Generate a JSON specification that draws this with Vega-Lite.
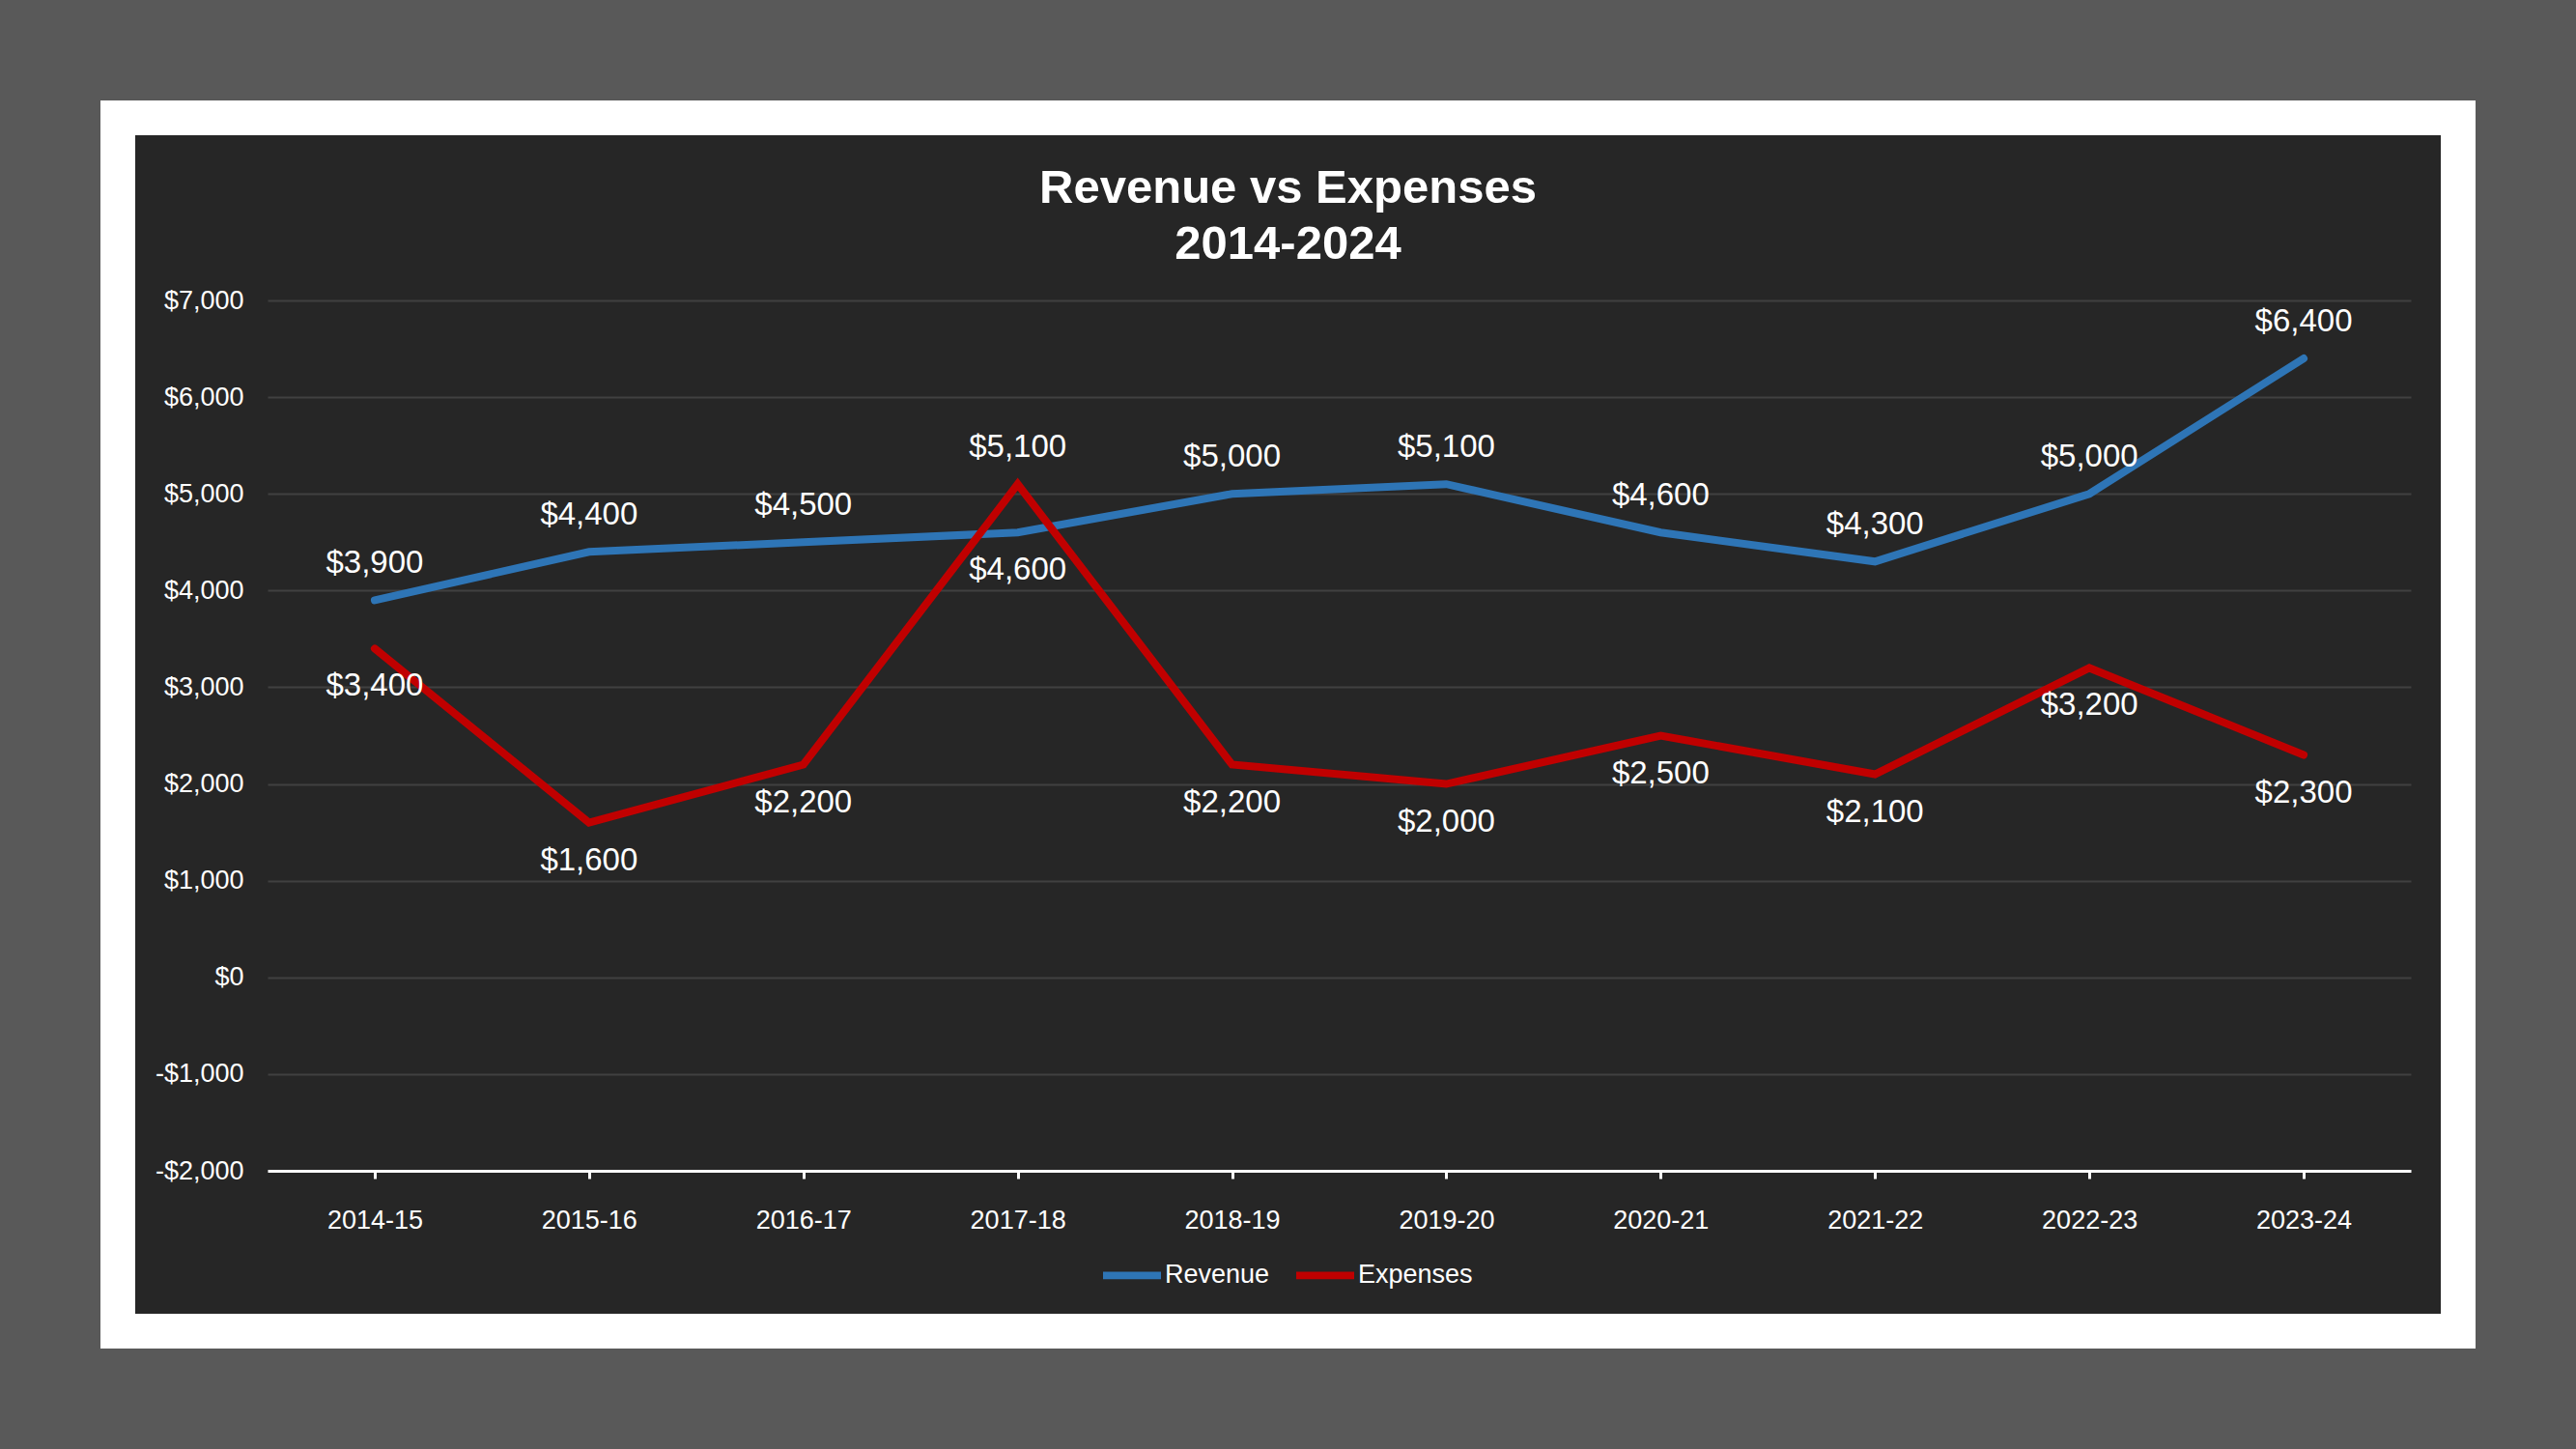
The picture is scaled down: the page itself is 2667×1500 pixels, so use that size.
{
  "$schema": "https://vega.github.io/schema/vega-lite/v6.json",
  "width": 2423,
  "height": 1256,
  "autosize": {"type": "none"},
  "padding": {"left": 122, "top": 122, "right": 122, "bottom": 122},
  "background": "#595959",
  "title": {
    "text": ["Revenue vs Expenses", "2014-2024"],
    "fontSize": 49,
    "fontWeight": "bold",
    "font": "Liberation Sans",
    "color": "#ffffff",
    "lineHeight": 58,
    "anchor": "middle",
    "frame": "group",
    "baseline": "top",
    "offset": -156
  },
  "data": {
    "values": [
      {"year": "2014-15", "series": "Revenue", "value": 3900},
      {"year": "2015-16", "series": "Revenue", "value": 4400},
      {"year": "2016-17", "series": "Revenue", "value": 4500},
      {"year": "2017-18", "series": "Revenue", "value": 4600},
      {"year": "2018-19", "series": "Revenue", "value": 5000},
      {"year": "2019-20", "series": "Revenue", "value": 5100},
      {"year": "2020-21", "series": "Revenue", "value": 4600},
      {"year": "2021-22", "series": "Revenue", "value": 4300},
      {"year": "2022-23", "series": "Revenue", "value": 5000},
      {"year": "2023-24", "series": "Revenue", "value": 6400},
      {"year": "2014-15", "series": "Expenses", "value": 3400},
      {"year": "2015-16", "series": "Expenses", "value": 1600},
      {"year": "2016-17", "series": "Expenses", "value": 2200},
      {"year": "2017-18", "series": "Expenses", "value": 5100},
      {"year": "2018-19", "series": "Expenses", "value": 2200},
      {"year": "2019-20", "series": "Expenses", "value": 2000},
      {"year": "2020-21", "series": "Expenses", "value": 2500},
      {"year": "2021-22", "series": "Expenses", "value": 2100},
      {"year": "2022-23", "series": "Expenses", "value": 3200},
      {"year": "2023-24", "series": "Expenses", "value": 2300}
    ]
  },
  "transform": [
    {"joinaggregate": [{"op": "max", "field": "value", "as": "maxv"}], "groupby": ["year"]},
    {"calculate": "datum.value == datum.maxv", "as": "isTop"}
  ],
  "encoding": {
    "x": {
      "field": "year",
      "type": "ordinal",
      "sort": null,
      "scale": {"type": "point", "range": [155, 2374], "padding": 0.5},
      "axis": {
        "title": null,
        "orient": "bottom",
        "offset": -166,
        "grid": false,
        "domain": true,
        "domainColor": "#ffffff",
        "domainWidth": 3,
        "ticks": true,
        "tickColor": "#ffffff",
        "tickWidth": 3,
        "tickSize": 8,
        "labelPadding": 30,
        "labelFontSize": 27,
        "labelColor": "#ffffff",
        "labelFont": "Liberation Sans",
        "labelAngle": 0
      }
    },
    "y": {
      "field": "value",
      "type": "quantitative",
      "scale": {"domain": [-2000, 7000], "range": [1090, 189], "nice": false, "zero": false},
      "axis": {
        "title": null,
        "orient": "left",
        "offset": -155,
        "values": [-2000, -1000, 0, 1000, 2000, 3000, 4000, 5000, 6000, 7000],
        "labelExpr": "datum.value < 0 ? '-$' + format(-datum.value, ',') : '$' + format(datum.value, ',')",
        "domain": false,
        "ticks": false,
        "tickSize": 0,
        "grid": true,
        "gridColor": "#404040",
        "gridWidth": 2,
        "labelPadding": 25,
        "labelFontSize": 27,
        "labelColor": "#ffffff",
        "labelFont": "Liberation Sans"
      }
    }
  },
  "layer": [
    {
      "mark": {"type": "line", "strokeWidth": 8, "strokeCap": "round", "strokeJoin": "miter"},
      "encoding": {
        "color": {
          "field": "series",
          "type": "nominal",
          "sort": ["Revenue", "Expenses"],
          "scale": {"domain": ["Revenue", "Expenses"], "range": ["#2E75B6", "#C00000"]},
          "legend": {
            "title": null,
            "orient": "none",
            "legendX": 1016,
            "legendY": 1164,
            "direction": "horizontal",
            "symbolType": "stroke",
            "symbolSize": 3600,
            "symbolStrokeWidth": 7.7,
            "labelFontSize": 27,
            "labelColor": "#ffffff",
            "labelFont": "Liberation Sans",
            "labelOffset": 0,
            "columnPadding": 11,
            "padding": 0
          }
        }
      }
    },
    {
      "transform": [{"filter": "datum.isTop"}],
      "mark": {"type": "text", "dy": -38, "fontSize": 33, "color": "#ffffff", "font": "Liberation Sans", "baseline": "middle"},
      "encoding": {"text": {"field": "value", "type": "quantitative", "format": "$,.0f"}}
    },
    {
      "transform": [{"filter": "!datum.isTop"}],
      "mark": {"type": "text", "dy": 39, "fontSize": 33, "color": "#ffffff", "font": "Liberation Sans", "baseline": "middle"},
      "encoding": {"text": {"field": "value", "type": "quantitative", "format": "$,.0f"}}
    }
  ],
  "config": {
    "font": "Liberation Sans",
    "view": {"fill": "#262626", "stroke": "#ffffff", "strokeWidth": 36}
  }
}
